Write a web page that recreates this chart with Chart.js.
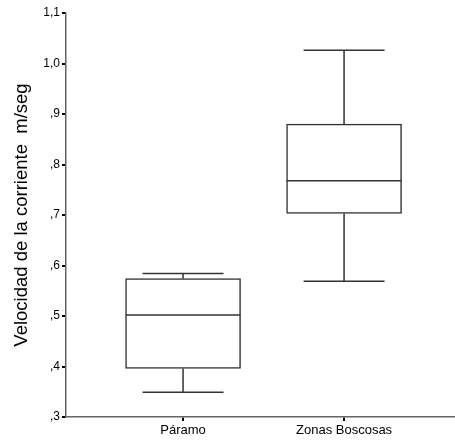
<!DOCTYPE html>
<html>
<head>
<meta charset="utf-8">
<script src="https://cdn.jsdelivr.net/npm/chart.js@4"></script>
<style>
  body { margin: 0; background: #fff; }
  #wrap { width: 455px; height: 446px; }
</style>
</head>
<body>
<div id="wrap"><canvas id="chart"></canvas></div>
<script>
// box plot data
const categories = ['Páramo', 'Zonas Boscosas'];
const minVals = [0.349, 0.569];
const q1Vals = [0.396, 0.703];
const medians = [0.502, 0.768];
const q3Vals = [0.574, 0.880];
const maxVals = [0.584, 1.026];
const yTicks = [0.3, 0.4, 0.5, 0.6, 0.7, 0.8, 0.9, 1.0, 1.1];

const boxWidth = 115;
const capWidth = 81;

function fmt(v) {
    return v.toFixed(1).replace('.', ',').replace(/^0/, '');
}

// medians, whiskers and caps drawn with the chart's scales
const whiskerPlugin = {
    id: 'whiskers',
    afterDatasetsDraw(chart) {
        const ctx = chart.ctx;
        const xs = chart.scales.x;
        const ys = chart.scales.y;
        ctx.save();
        ctx.strokeStyle = '#333';
        ctx.lineWidth = 1.5;
        for (let i = 0; i < categories.length; i++) {
            const x = xs.getPixelForValue(i + 1);
            const yMin = ys.getPixelForValue(minVals[i]);
            const yQ1 = ys.getPixelForValue(q1Vals[i]);
            const yMed = ys.getPixelForValue(medians[i]);
            const yQ3 = ys.getPixelForValue(q3Vals[i]);
            const yMax = ys.getPixelForValue(maxVals[i]);
            ctx.beginPath();
            ctx.moveTo(x - boxWidth / 2, yMed); ctx.lineTo(x + boxWidth / 2, yMed);
            ctx.moveTo(x, yQ3); ctx.lineTo(x, yMax);
            ctx.moveTo(x, yQ1); ctx.lineTo(x, yMin);
            ctx.moveTo(x - capWidth / 2, yMax); ctx.lineTo(x + capWidth / 2, yMax);
            ctx.moveTo(x - capWidth / 2, yMin); ctx.lineTo(x + capWidth / 2, yMin);
            ctx.stroke();
        }
        ctx.restore();
    }
};

Chart.defaults.font.family = '"Liberation Sans", Arial, sans-serif';
Chart.defaults.color = '#000';

new Chart(document.getElementById('chart'), {
    type: 'bar',
    data: {
        datasets: [{
            data: categories.map((c, i) => ({ x: i + 1, y: [q1Vals[i], q3Vals[i]] })),
            backgroundColor: '#fff',
            borderColor: '#333',
            borderWidth: 1.5,
            borderSkipped: false,
            barThickness: boxWidth
        }]
    },
    options: {
        responsive: true,
        maintainAspectRatio: false,
        animation: false,
        layout: { padding: { top: 13, right: 0, left: 0, bottom: 0 } },
        plugins: { legend: { display: false }, tooltip: { enabled: false } },
        scales: {
            x: {
                type: 'linear',
                offset: false,
                min: 0.273,
                max: 2.689,
                afterBuildTicks: axis => { axis.ticks = categories.map((c, i) => ({ value: i + 1 })); },
                afterFit: scale => { scale.height = 29; },
                grid: { offset: false, drawOnChartArea: false, color: '#000', tickLength: 4, lineWidth: 2 },
                border: { color: '#666', width: 1.5 },
                ticks: {
                    font: { size: 13 },
                    padding: 2,
                    maxRotation: 0,
                    callback: v => categories[v - 1]
                }
            },
            y: {
                min: 0.3,
                max: 1.1,
                afterBuildTicks: axis => { axis.ticks = yTicks.map(v => ({ value: v })); },
                afterFit: scale => { scale.width = 66; },
                grid: { drawOnChartArea: false, color: '#000', tickLength: 4, lineWidth: 2 },
                border: { color: '#666', width: 1.5 },
                ticks: {
                    font: { size: 12 },
                    padding: 2,
                    callback: v => fmt(v)
                },
                title: {
                    display: true,
                    text: 'Velocidad de la corriente  m/seg',
                    font: { size: 18.5 },
                    padding: { top: 11, bottom: 0 }
                }
            }
        }
    },
    plugins: [whiskerPlugin]
});
</script>
</body>
</html>
